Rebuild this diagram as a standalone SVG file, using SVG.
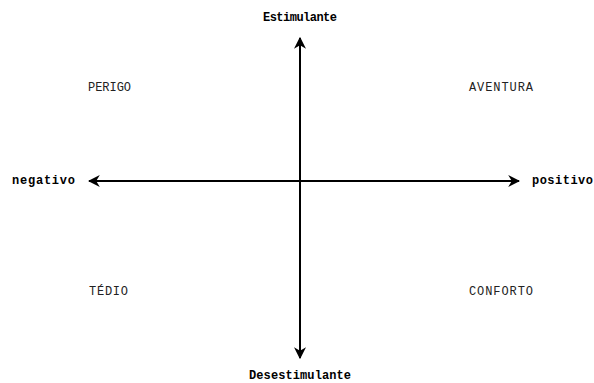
<svg xmlns="http://www.w3.org/2000/svg" width="594" height="383" viewBox="0 0 594 383">
<style>
.ax{font-family:"Liberation Mono","Courier New",monospace;font-size:12px;font-weight:bold;fill:#000}
.q{font-family:"Liberation Mono","Courier New",monospace;font-size:12px;fill:#222}
.ln{stroke:#000;stroke-width:2;fill:none}
</style>
<defs>
<marker id="ah" viewBox="0 0 10 10" refX="9" refY="5" markerWidth="6" markerHeight="6" orient="auto-start-reverse" markerUnits="strokeWidth">
<path d="M0,0 L10,5 L0,10 L3,5 Z" fill="#000"/>
</marker>
</defs>
<rect width="594" height="383" fill="#fff"/>
<g id="connectors">
<line class="ln" x1="89" y1="181" x2="519" y2="181" marker-start="url(#ah)" marker-end="url(#ah)"/>
<line class="ln" x1="300" y1="38" x2="300" y2="358" marker-start="url(#ah)" marker-end="url(#ah)"/>
</g>
<g id="estimulante"><text class="ax" x="300" y="21" text-anchor="middle" textLength="74">Estimulante</text></g>
<g id="desestimulante"><text class="ax" x="300" y="379" text-anchor="middle" textLength="102">Desestimulante</text></g>
<g id="negativo"><text class="ax" x="12" y="184" textLength="63">negativo</text></g>
<g id="positivo"><text class="ax" x="532" y="184" textLength="61">positivo</text></g>
<g id="perigo"><text class="q" x="88" y="91" textLength="43">PERIGO</text></g>
<g id="aventura"><text class="q" x="469" y="91" textLength="64">AVENTURA</text></g>
<g id="tedio"><text class="q" x="89" y="295" textLength="39">TÉDIO</text></g>
<g id="conforto"><text class="q" x="469" y="295" textLength="64">CONFORTO</text></g>
</svg>
